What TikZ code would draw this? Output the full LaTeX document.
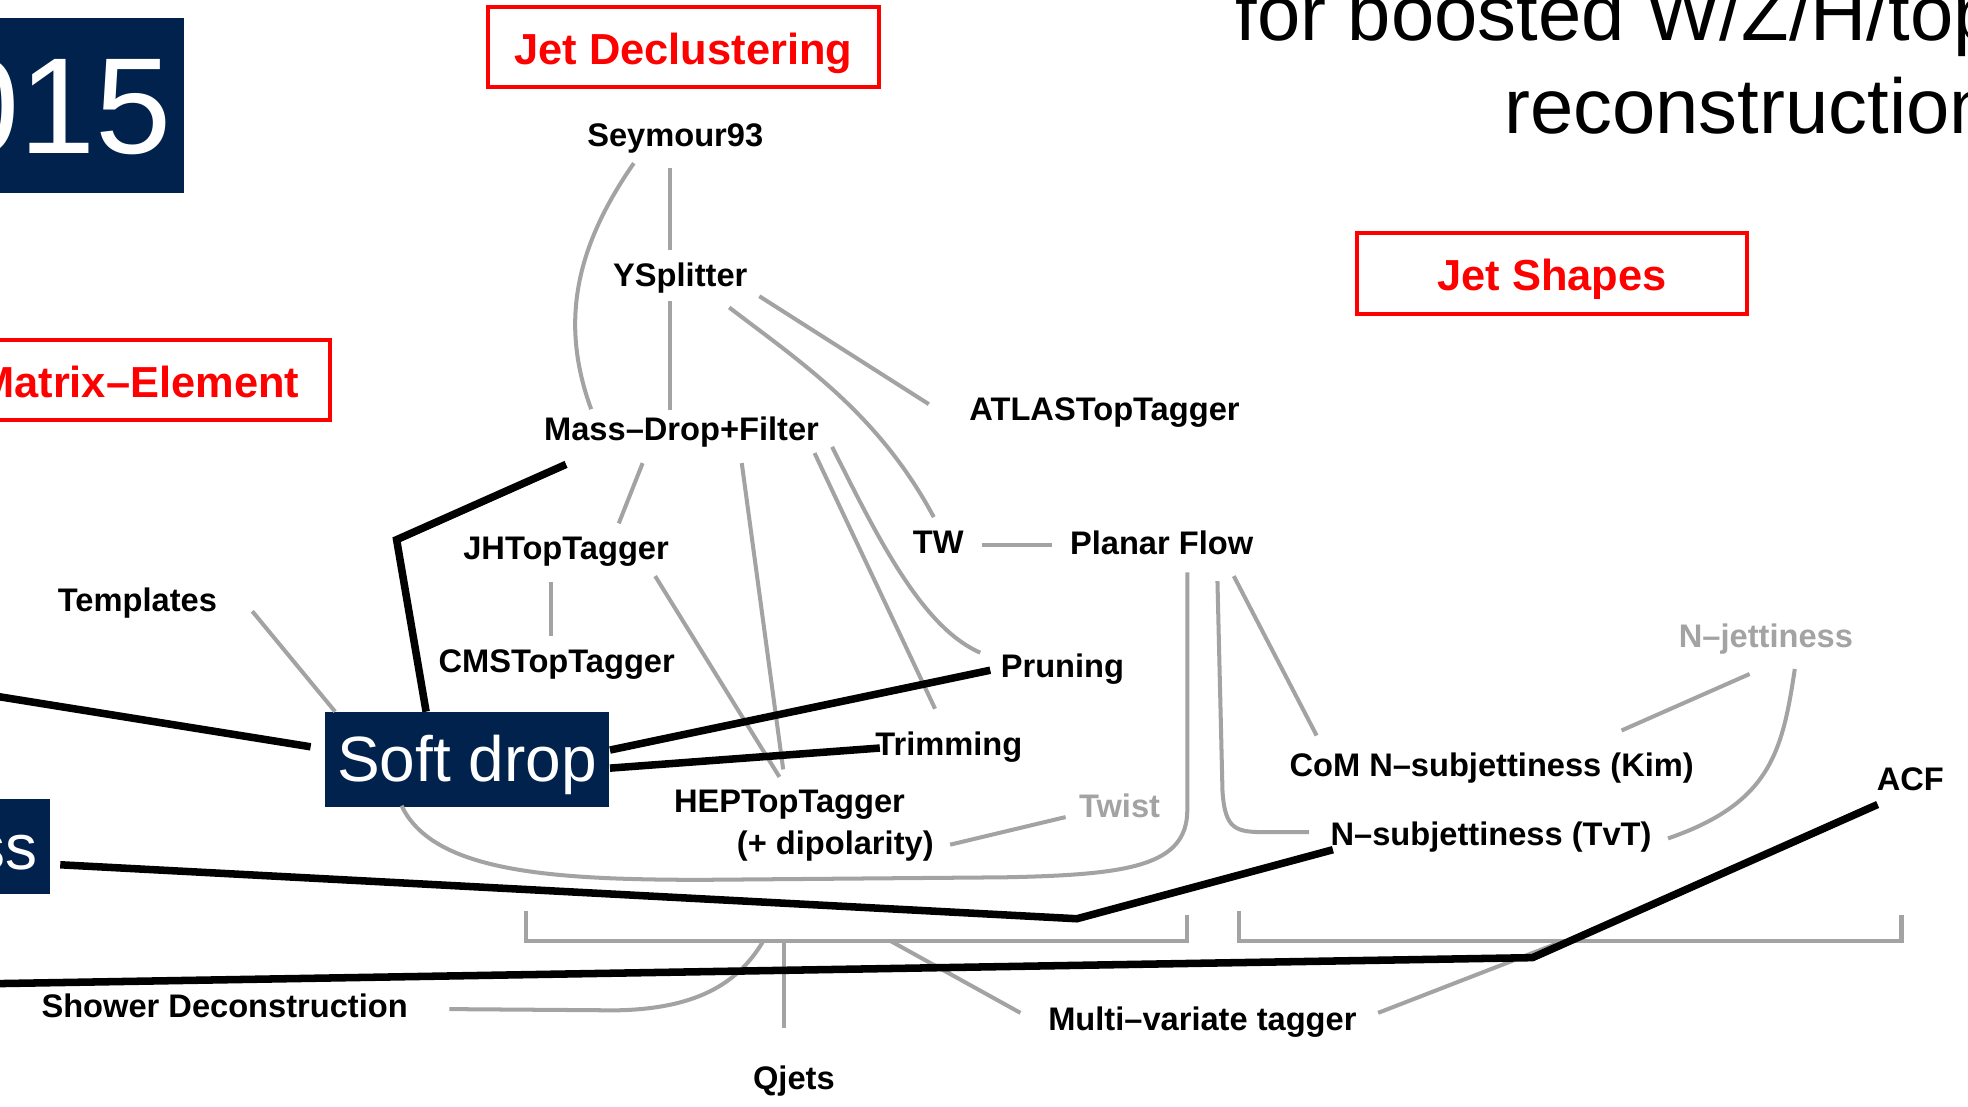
\documentclass[tikz,border=0pt]{standalone}
\usepackage{fontspec}
\setmainfont{Liberation Sans}
\usetikzlibrary{calc}
\definecolor{navy}{RGB}{0,34,77}
\definecolor{lgray}{RGB}{163,163,163}
\definecolor{hred}{RGB}{255,0,0}

\begin{document}
\begin{tikzpicture}[x=0.5pt,y=-0.5pt,
    lbl/.style={inner sep=0pt,anchor=base,font=\bfseries\fontsize{13}{15}\selectfont},
    glbl/.style={lbl,text=lgray},
    gline/.style={draw=lgray,line width=1.6pt},
    bline/.style={draw=black,line width=3pt},
    redbox/.style={draw=hred,line width=1.6pt,text=hred,inner sep=0pt,
      font=\bfseries\fontsize{17.3}{20}\selectfont,text height=13.8pt,text depth=0pt},
    navybox/.style={fill=navy,text=white,inner sep=0pt,outer sep=0pt}]

    \useasboundingbox (0,0) rectangle (1568,882);
    \clip (0,0) rectangle (1568,882);
    \fill[white] (0,0) rectangle (1568,882);

    \node[navybox,anchor=east,minimum height=69.7pt,inner xsep=5pt,text height=39.2pt,text depth=1.5pt,
      font=\fontsize{54.5}{60}\selectfont] (year) at (146.5,84.3) {015};
    \node[navybox,anchor=east,minimum height=37.7pt,inner xsep=5pt,text height=19.4pt,text depth=1.4pt,
      font=\fontsize{25.5}{30}\selectfont] (ss) at (40,674.5) {ss};
    \node[navybox,minimum width=113pt,minimum height=38pt,text height=19.4pt,text depth=1.4pt,
      font=\fontsize{25.5}{30}\selectfont] (soft) at (372,605) {Soft drop};

    \node[anchor=base west,inner sep=0pt,font=\fontsize{31}{37}\selectfont] (ttl1) at (984,32) {for boosted W/Z/H/top};
    \node[anchor=base west,inner sep=0pt,font=\fontsize{31}{37}\selectfont] (ttl2) at (1198,106) {reconstruction};

    \node[redbox,minimum width=155.5pt,minimum height=32pt] (jd) at (544.5,37.5) {Jet Declustering};
    \node[redbox,minimum width=155.5pt,minimum height=32pt] (js) at (1236.5,218) {Jet Shapes};
    \node[redbox,anchor=east,inner xsep=12.25pt,minimum height=32pt] (me) at (264.5,303) {Matrix–Element};

    \node[lbl] (seymour) at (538,117) {Seymour93};
    \node[lbl] (ysplit) at (542,228) {YSplitter};
    \node[lbl] (mdf) at (543,351) {Mass–Drop+Filter};
    \node[lbl] (atlas) at (880,335) {ATLASTopTagger};
    \node[lbl] (jhtop) at (451,446) {JHTopTagger};
    \node[lbl] (tw) at (747.5,441) {TW};
    \node[lbl] (planar) at (925.5,441.5) {Planar Flow};
    \node[lbl] (templ) at (109.5,487) {Templates};
    \node[lbl] (cmstop) at (443.5,535.5) {CMSTopTagger};
    \node[lbl] (pruning) at (846.5,540) {Pruning};
    \node[lbl] (trim) at (756,601.7) {Trimming};
    \node[lbl] (hep) at (629,647) {HEPTopTagger};
    \node[lbl] (dipol) at (665.5,681) {(+ dipolarity)};
    \node[glbl] (twist) at (892,651) {Twist};
    \node[glbl] (njet) at (1407,515.6) {N–jettiness};
    \node[lbl] (com) at (1188.5,619) {CoM N–subjettiness (Kim)};
    \node[lbl] (nsub) at (1188,674) {N–subjettiness (TvT)};
    \node[lbl] (acf) at (1522,630) {ACF};
    \node[lbl] (shower) at (179,811) {Shower Deconstruction};
    \node[lbl] (mva) at (958,821) {Multi–variate tagger};
    \node[lbl] (qjets) at (632.5,868) {Qjets};

    \draw[gline] ($(seymour.base)+(-33,13)$) .. controls +(-45,65) and +(-26,-71) .. ($(mdf.base)+(-72,-25)$);
    \draw[gline] ($(seymour.base)+(-4,17)$) -- ($(ysplit.base)+(-8,-29)$);
    \draw[gline] ($(ysplit.base)+(-8,12)$) -- ($(mdf.base)+(-9,-24)$);
    \draw[gline] ($(ysplit.base)+(63,8)$) -- ($(atlas.base)+(-140,-13)$);
    \draw[gline] ($(ysplit.base)+(39,17)$) .. controls +(59,45) and +(-44,-82) .. ($(tw.base)+(-3.5,-29)$);
    \draw[gline] ($(mdf.base)+(-31,18)$) -- ($(jhtop.base)+(42,-29)$);
    \draw[gline] ($(mdf.base)+(48,18)$) -- ($(hep.base)+(-5,-34)$);
    \draw[gline] ($(mdf.base)+(106,10)$) -- ($(trim.base)+(-11,-37)$);
    \draw[gline] ($(mdf.base)+(120,5)$) .. controls +(37,74) and +(-46,-20) .. ($(pruning.base)+(-65.5,-20)$);
    \draw[gline] ($(jhtop.base)+(71,13)$) -- ($(hep.base)+(-8,-28)$);
    \draw[gline] ($(jhtop.base)+(-12,18)$) -- ($(cmstop.base)+(-4.5,-28.5)$);
    \draw[gline] ($(tw.base)+(34.5,-7)$) -- ($(planar.base)+(-87.5,-7.5)$);
    \draw[gline] ($(templ.base)+(91.5,0)$) -- ($(soft.north west)+(8,0)$);
    \draw[gline] ($(soft.south)+(-52,-1)$) .. controls +(25,53) and +(-120,0) .. (560,701) -- (800,699)
      .. controls +(100,-2) and +(0,45) .. (946,645) -- ($(planar.base)+(20.5,14.5)$);
    \draw[gline] ($(dipol.base)+(91.5,-8)$) -- ($(twist.base)+(-43,0)$);
    \draw[gline] ($(planar.base)+(44.5,21.5)$) -- (974,630) .. controls (976,662) and (985,663) .. (1010,663)
      -- ($(nsub.base)+(-145,-11)$);
    \draw[gline] ($(planar.base)+(57.5,17.5)$) -- ($(com.base)+(-139.5,-33)$);
    \draw[gline] ($(njet.base)+(-13,21.4)$) -- ($(com.base)+(103.5,-37)$);
    \draw[gline] ($(njet.base)+(23,17.4)$) .. controls +(-10,67) and +(81,-28) .. ($(nsub.base)+(141,-6)$);

    \draw[gline] (419,726) -- (419,750) -- (946,750) -- (946,729);
    \draw[gline] (987,726) -- (987,750) -- (1515,750) -- (1515,729);
    \coordinate (bsd) at (608,750);
    \coordinate (bqj) at (625,750);
    \coordinate (bmvl) at (710,750);
    \coordinate (bmvr) at (1245,750);
    \draw[gline] ($(shower.base)+(179,-7)$) -- (490,805) .. controls (560,804) and (590,780) .. (bsd);
    \draw[gline] (bqj) -- ($(qjets.base)+(-7.5,-49)$);
    \draw[gline] (bmvl) -- ($(mva.base)+(-145,-14)$);
    \draw[gline] ($(mva.base)+(140,-14)$) -- (bmvr);

    \coordinate (lft1) at (-20,552);
    \coordinate (lft2) at (-20,784);
    \coordinate (knee1) at (316,430);
    \coordinate (knee2) at (858,732);
    \coordinate (knee3) at (1221,763);
    \draw[bline] ($(mdf.base)+(-92,19)$) -- (knee1) -- ($(soft.north)+(-32.5,0)$);
    \draw[bline] (lft1) -- ($(soft.west)+(-11.5,-10)$);
    \draw[bline] ($(soft.east)+(1,-7.4)$) -- ($(pruning.base)+(-57.5,-6)$);
    \draw[bline] ($(soft.east)+(1,7)$) -- ($(trim.base)+(-55,-5.7)$);
    \draw[bline] ($(ss.east)+(8,14.5)$) -- (knee2) -- ($(nsub.base)+(-126,3)$);
    \draw[bline] (lft2) -- (knee3) -- ($(acf.base)+(-26,11)$);

\end{tikzpicture}
\end{document}
